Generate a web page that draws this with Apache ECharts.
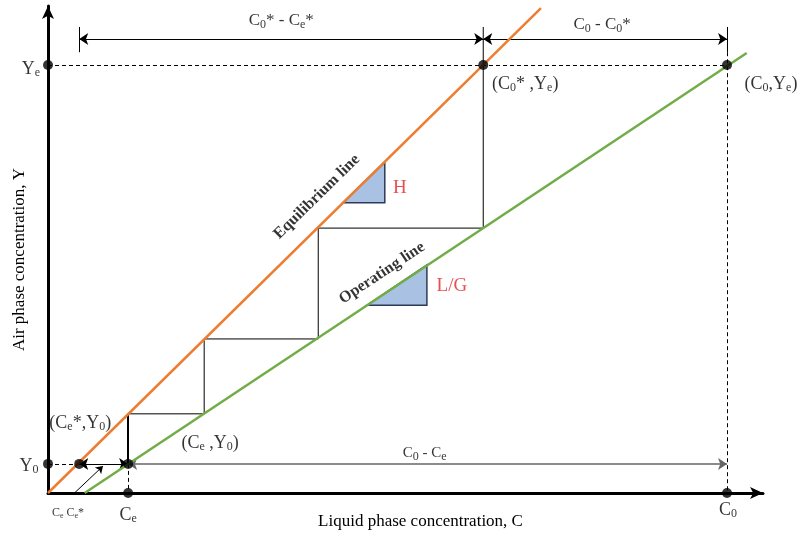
<!DOCTYPE html>
<html>
<head>
<meta charset="utf-8">
<script src="https://cdn.jsdelivr.net/npm/echarts@6/dist/echarts.min.js"></script>
<style>
  html, body { margin: 0; background: #fff; }
  #chart { width: 800px; height: 536px; }
</style>
</head>
<body>
<div id="chart"></div>
<script>
// concentrations, scaled so that C0 = 100 and Ye = 100
const cKeys = [4.6, 11.8, 64.1, 100]   // Ce*, Ce, C0*, C0
const yKeys = [6.8, 100]               // Y0, Ye
const [CeS, Ce, C0S, C0] = cKeys
const [Y0, Ye] = yKeys

const equilibriumLine = [[0, 0], [72.6, 113.3]]
const operatingLine = [[5.4, 0], [102.9, 102.8]]
const stages = [
  [11.8, 6.8], [11.8, 18.5], [23.0, 18.5], [23.0, 36.0],
  [39.8, 36.0], [39.8, 61.9], [64.1, 61.9], [64.1, 108.9]
]
const slopeH = [[43.4, 67.8], [49.6, 77.3], [49.6, 67.8]]
const slopeLG = [[47.0, 43.9], [55.8, 53.3], [55.8, 43.9]]
const dimY = 106.1                    // level of the upper dimension arrows
const tickY = [103.0, 108.9]          // short end ticks of the upper dimension

const serif = 'Liberation Serif'
const rich = {
  s: { fontFamily: serif, fontSize: 12, padding: [8, 0, 0, 0], color: '#000' },
  n: { fontFamily: serif, fontSize: 18, color: '#000' },
}

function txt(value, text, offset, extra) {
  return {
    value,
    label: Object.assign({ formatter: text, offset }, extra || {}),
  }
}

function triangle(pts) {
  return {
    type: 'custom',
    data: pts,
    encode: { x: 0, y: 1 },
    z: 4,
    renderItem(params, api) {
      if (params.dataIndex !== 0) return null
      return {
        type: 'polygon',
        shape: { points: pts.map(p => api.coord(p)) },
        style: { fill: '#a9c1e3', stroke: '#2c3b58', lineWidth: 1.5 },
      }
    },
  }
}

const chart = echarts.init(document.getElementById('chart'))
chart.setOption({
  animation: false,
  grid: { left: 48, right: 37, top: 6, bottom: 43 },
  xAxis: {
    type: 'value', min: 0, max: 105.3,
    axisLine: { lineStyle: { color: '#000', width: 3 }, symbol: ['none', 'arrow'], symbolSize: [9, 13] },
    axisTick: { show: false }, axisLabel: { show: false }, splitLine: { show: false },
    name: 'Liquid phase concentration, C', nameLocation: 'middle', nameGap: 20,
    nameTextStyle: { fontFamily: serif, fontSize: 17, color: '#000', padding: [0, 0, 0, 30] },
  },
  yAxis: {
    type: 'value', min: 0, max: 113.8,
    axisLine: { lineStyle: { color: '#000', width: 3 }, symbol: ['none', 'arrow'], symbolSize: [9, 13] },
    axisTick: { show: false }, axisLabel: { show: false }, splitLine: { show: false },
    name: 'Air phase concentration, Y', nameLocation: 'middle', nameGap: 20,
    nameTextStyle: { fontFamily: serif, fontSize: 17, color: '#000', padding: [0, 20, 0, 0] },
  },
  series: [
    {
      type: 'line', data: equilibriumLine, showSymbol: false, clip: false, z: 5,
      lineStyle: { color: '#ed7d31', width: 2.5 },
    },
    {
      type: 'line', data: operatingLine, showSymbol: false, clip: false, z: 5,
      lineStyle: { color: '#70ad47', width: 2.5 },
    },
    {
      type: 'line', data: stages, showSymbol: false, clip: false, z: 3,
      lineStyle: { color: '#000', width: 1 },
    },
    // dashed guides
    {
      type: 'lines', coordinateSystem: 'cartesian2d', z: 2,
      lineStyle: { color: '#000', width: 1, type: [4, 3], opacity: 1 },
      data: [
        { coords: [[0, Ye], [C0, Ye]] },
        { coords: [[C0, tickY[0]], [C0, 0]] },
        { coords: [[0, Y0], [CeS, Y0]] },
        { coords: [[Ce, Y0], [Ce, 0]] },
      ],
    },
    // solid ticks
    {
      type: 'lines', coordinateSystem: 'cartesian2d', z: 2,
      lineStyle: { color: '#000', width: 1, opacity: 1 },
      data: [
        { coords: [[CeS, tickY[0]], [CeS, tickY[1]]] },
        { coords: [[C0, tickY[0]], [C0, tickY[1]]] },
        { coords: [[Ce, Y0], [Ce, stages[1][1]]], lineStyle: { width: 2 } },
      ],
    },
    // dimension arrows
    {
      type: 'lines', coordinateSystem: 'cartesian2d', z: 3,
      symbol: ['arrow', 'arrow'], symbolSize: 9,
      lineStyle: { color: '#000', width: 1, opacity: 1 },
      data: [
        { coords: [[CeS, dimY], [C0S, dimY]] },
        { coords: [[C0S, dimY], [C0, dimY]] },
        { coords: [[CeS, Y0], [Ce, Y0]] },
        { coords: [[Ce, Y0], [C0, Y0]], lineStyle: { color: '#666', width: 1.5 } },
      ],
    },
    {
      type: 'lines', coordinateSystem: 'cartesian2d', z: 3,
      symbol: ['none', 'arrow'], symbolSize: 7,
      lineStyle: { color: '#000', width: 1, opacity: 1 },
      data: [{ coords: [[3.1, -1.2], [8.1, 6.3]] }],
    },
    triangle(slopeH),
    triangle(slopeLG),
    // points with their labels
    {
      type: 'scatter', symbolSize: 10, z: 6, clip: false,
      itemStyle: { color: '#000' },
      label: {
        show: true, position: 'inside', align: 'center', verticalAlign: 'middle',
        fontFamily: serif, fontSize: 18, color: '#000', rich,
      },
      data: [
        txt([0, Ye], 'Y{s|e}', [-17, 4]),
        txt([0, Y0], 'Y{s|0}', [-19, 2]),
        txt([CeS, Y0], '(C{s|e}{n|*},Y{s|0})', [1, -41]),
        txt([Ce, Y0], '(C{s|e} ,Y{s|0})', [82, -21]),
        txt([C0S, Ye], '(C{s|0}{n|*} ,Y{s|e})', [42, 19]),
        txt([C0, Ye], '(C{s|0},Y{s|e})', [44, 19]),
        txt([Ce, 0], 'C{s|e}', [0, 22]),
        txt([C0, 0], 'C{s|0}', [1, 17]),
      ],
    },
    // free text
    {
      type: 'scatter', symbolSize: 0, z: 7, clip: false,
      label: {
        show: true, position: 'inside', align: 'center', verticalAlign: 'middle',
        fontFamily: serif, fontSize: 17, color: '#000', rich,
      },
      data: [
        txt([(CeS + C0S) / 2, dimY], 'C{s|0}* - C{s|e}*', [0, -18]),
        txt([(C0S + C0) / 2, dimY], 'C{s|0} - C{s|0}*', [-3, -14]),
        txt([(Ce + C0) / 2, Y0], 'C{s|0} - C{s|e}', [-3, -11], { fontSize: 15 }),
        txt([3.1, -1.2], 'C{s|e} C{s|e}*', [-1, 15], { fontSize: 12, rich: { s: { fontSize: 8, padding: [5, 0, 0, 0] } } }),
        txt(slopeH[2], 'H', [15, -15], { color: '#e02424', fontSize: 19 }),
        txt(slopeLG[2], 'L/G', [25, -19], { color: '#e02424', fontSize: 19 }),
        txt([39.6, 69.2], 'Equilibrium line', [0, 0], { rotate: 44.5, fontWeight: 'bold', fontSize: 16 }),
        txt([49.2, 51.4], 'Operating line', [0, 0], { rotate: 33.6, fontWeight: 'bold', fontSize: 16 }),
      ],
    },
  ],
})
</script>
</body>
</html>
